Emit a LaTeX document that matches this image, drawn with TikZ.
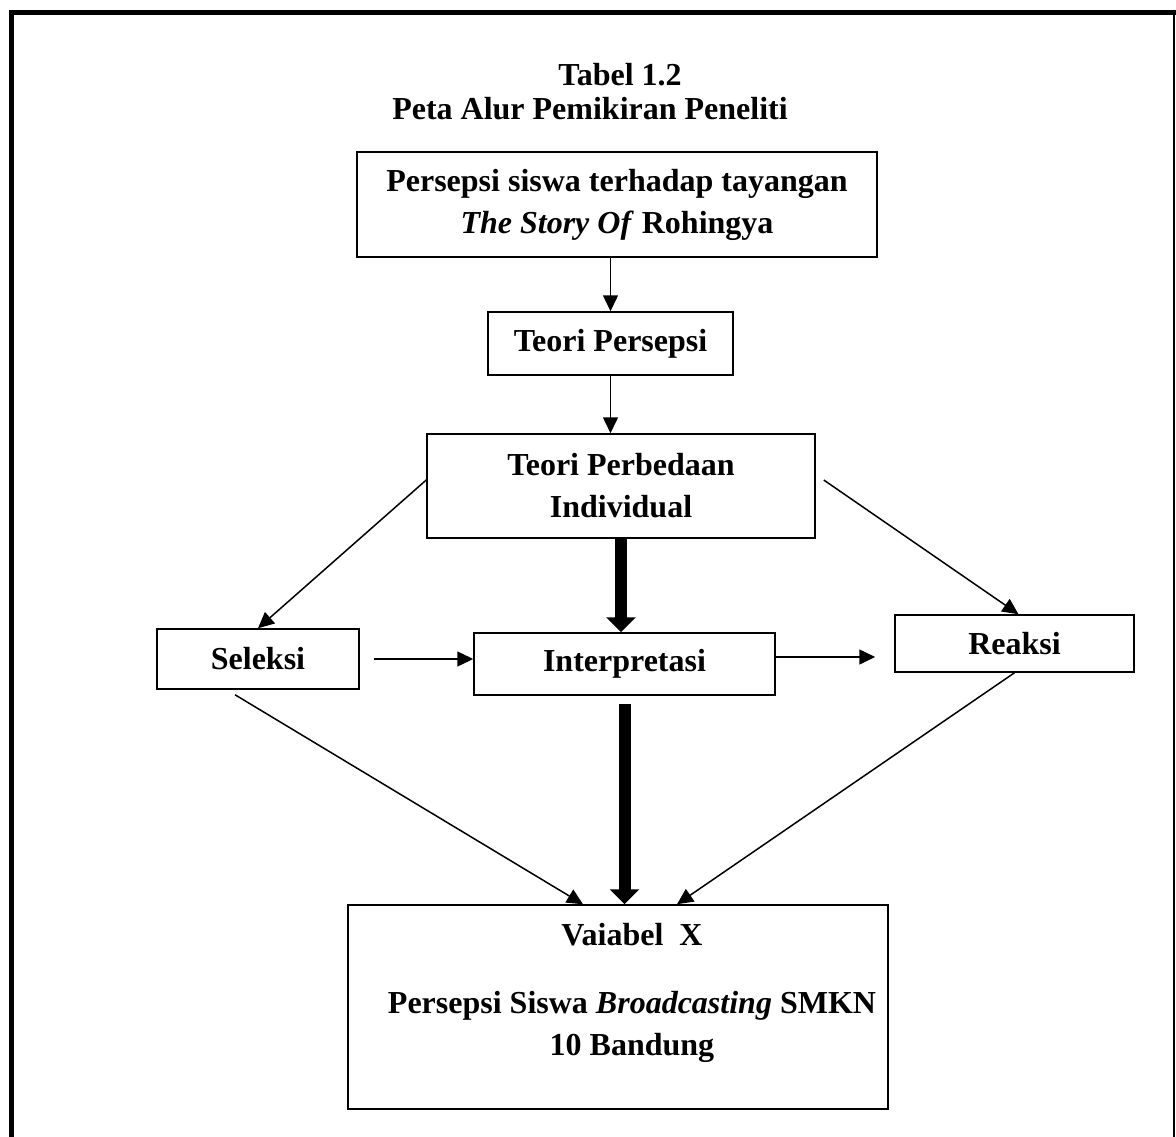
\documentclass[tikz,border=0pt]{standalone}
\usepackage{fontspec}
\setmainfont{Liberation Serif}
\usepackage{tikz}
\usetikzlibrary{arrows.meta, positioning, calc}
\tikzset{
  box/.style={rectangle,draw=black,line width=1.5pt,inner sep=0pt,align=center,font=\fontsize{32}{42}\selectfont\bfseries},
  ttl/.style={inner sep=0pt,anchor=base,font=\fontsize{32}{42}\selectfont\bfseries},
  arr/.style={-{Triangle[length=16pt,width=15pt]},line width=1.5pt},
  fatarr/.style={-{Triangle[length=15pt,width=29pt]},line width=12pt}
}
\begin{document}
\begin{tikzpicture}[x=1pt,y=-1pt]
  \useasboundingbox (0,0) rectangle (1176,1137);
  % outer frame
  \draw[line width=5pt] (11,1137) -- (11,12.5) -- (1176,12.5);
  \draw[line width=1.5pt] (1174,12.5) -- (1174,1137);

  \node[ttl] (tbl) at (620,86)  {Tabel 1.2};
  \node[ttl] (peta) at (590,120) {Peta Alur Pemikiran Peneliti};

  \node[box, minimum width=520pt, minimum height=105pt] (tayang) at (617,204.5)
    {Persepsi siswa terhadap tayangan\\\textit{The Story Of} Rohingya};
  \node[box, minimum width=245pt, minimum height=63pt] (persepsi) at (610.5,343.5) {Teori Persepsi};
  \node[box, minimum width=388pt, minimum height=104pt] (beda) at (621,486)
    {Teori Perbedaan\\Individual};

  \node[box, minimum width=202pt, minimum height=60pt] (seleksi) at (258,659) {Seleksi};
  \node[box, minimum width=301pt, minimum height=62pt] (interp) at (624.5,664) {Interpretasi};
  \node[box, minimum width=239pt, minimum height=57pt] (reaksi) at (1014.5,643.5) {Reaksi};

  \node[box, minimum width=540pt, minimum height=204pt] (varx) at (618,1007) {};
  \node[box, draw=none] (vartxt) at (632,993)
    {Vaiabel\ \ X\\[26pt]Persepsi Siswa \textit{Broadcasting} SMKN\\10 Bandung};

  % alur
  \draw[arr] (persepsi.north |- tayang.south) -- (persepsi.north);
  \draw[arr] (persepsi.south) -- (persepsi.south |- beda.north);
  \draw[fatarr] (beda.south) -- (beda.south |- interp.north);
  \draw[fatarr] ($(interp.south)+(0,8)$) -- (interp.south |- varx.north);

  \draw[arr] ($(beda.west)+(0,-6)$) -- (seleksi.north);
  \draw[arr] ($(beda.east)+(8,-6)$) -- ($(reaksi.north)+(4,0)$);

  \draw[arr] ($(seleksi.east)+(14,0)$) -- (seleksi.east -| interp.west);
  \draw[arr] ($(interp.east)+(0,-7)$) -- ($(interp.east -| reaksi.west)+(-19,-7)$);

  \draw[arr] ($(seleksi.south)+(-23,5)$) -- ($(varx.north)+(-35,0)$);
  \draw[arr] (reaksi.south) -- ($(varx.north)+(59,0)$);
\end{tikzpicture}
\end{document}
